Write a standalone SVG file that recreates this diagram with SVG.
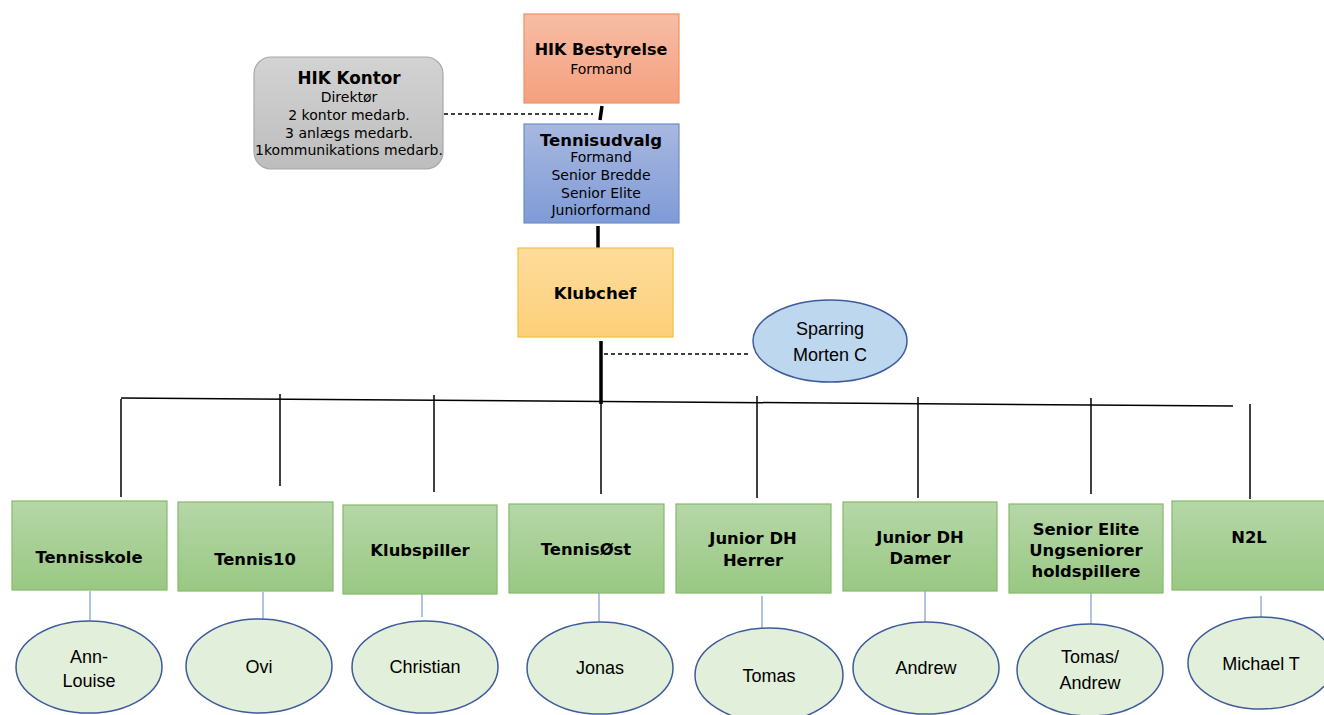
<svg xmlns="http://www.w3.org/2000/svg" width="1324" height="715" viewBox="0 0 1324 715">
<defs>
<linearGradient id="gOrange" x1="0" y1="0" x2="0" y2="1"><stop offset="0" stop-color="#f7bda6"/><stop offset="1" stop-color="#f4a07f"/></linearGradient>
<linearGradient id="gGrey" x1="0" y1="0" x2="0" y2="1"><stop offset="0" stop-color="#d3d3d3"/><stop offset="1" stop-color="#bdbdbd"/></linearGradient>
<linearGradient id="gBlue" x1="0" y1="0" x2="0" y2="1"><stop offset="0" stop-color="#a8b8e0"/><stop offset="1" stop-color="#7f9bd6"/></linearGradient>
<linearGradient id="gYellow" x1="0" y1="0" x2="0" y2="1"><stop offset="0" stop-color="#fedc9c"/><stop offset="1" stop-color="#fdd07a"/></linearGradient>
<linearGradient id="gGreen" x1="0" y1="0" x2="0" y2="1"><stop offset="0" stop-color="#b6d7a8"/><stop offset="1" stop-color="#99c883"/></linearGradient>
</defs>
<style>
.t{font-family:"DejaVu Sans",Verdana,sans-serif;fill:#000;text-anchor:middle}
.b{font-weight:bold}
.e{font-family:"Liberation Sans",Arial,sans-serif;font-size:18px;fill:#000;text-anchor:middle}
.box{stroke-width:1.2}
.green{fill:url(#gGreen);stroke:#85b96b;stroke-width:1.2}
.ell{fill:#e2efda;stroke:#3e5b9c;stroke-width:1.5}
.thin{stroke:#000;stroke-width:1.5;fill:none}
.thick{stroke:#000;stroke-width:3.5;fill:none}
.dash{stroke:#000;stroke-width:1.3;stroke-dasharray:4 3;fill:none}
.blue{stroke:#7c9bd0;stroke-width:1.2;fill:none}
</style>
<rect width="1324" height="715" fill="#fff"/>
<g id="connectors">
<line class="dash" x1="444" y1="114" x2="593" y2="114"/>
<line class="thick" x1="602" y1="106" x2="600" y2="120"/>
<line class="thick" x1="598" y1="226" x2="598" y2="259"/>
<line class="thick" x1="601" y1="341" x2="601" y2="404"/>
<line class="dash" x1="604" y1="354" x2="749" y2="354"/>
<line class="thin" x1="121" y1="398" x2="1233" y2="406"/>
<line class="thin" x1="121" y1="399" x2="121" y2="497"/>
<line class="thin" x1="280" y1="394" x2="280" y2="486"/>
<line class="thin" x1="434" y1="395" x2="434" y2="492"/>
<line class="thin" x1="601" y1="401" x2="601" y2="494"/>
<line class="thin" x1="757" y1="396" x2="757" y2="498"/>
<line class="thin" x1="918" y1="397" x2="918" y2="498"/>
<line class="thin" x1="1091" y1="398" x2="1091" y2="494"/>
<line class="thin" x1="1250" y1="404" x2="1250" y2="499"/>
<line class="blue" x1="90" y1="591" x2="90" y2="621"/>
<line class="blue" x1="263" y1="592" x2="263" y2="620"/>
<line class="blue" x1="422" y1="588" x2="422" y2="617"/>
<line class="blue" x1="599" y1="587" x2="599" y2="623"/>
<line class="blue" x1="762" y1="596" x2="762" y2="628"/>
<line class="blue" x1="925" y1="587" x2="925" y2="622"/>
<line class="blue" x1="1091" y1="588" x2="1091" y2="624"/>
<line class="blue" x1="1261" y1="596" x2="1261" y2="622"/>
</g>
<g id="bestyrelse">
<rect x="524" y="14" width="155" height="89" fill="url(#gOrange)" stroke="#f0915f" class="box"/>
<text class="t b" x="601" y="55" font-size="16">HIK Bestyrelse</text>
<text class="t" x="601" y="74" font-size="14">Formand</text>
</g>
<g id="kontor">
<rect x="254" y="57" width="189" height="112" rx="17" fill="url(#gGrey)" stroke="#a8a8a8" class="box"/>
<text class="t b" x="349" y="84" font-size="16.8">HIK Kontor</text>
<text class="t" x="349" y="102" font-size="14">Direktør</text>
<text class="t" x="349" y="120" font-size="14">2 kontor medarb.</text>
<text class="t" x="349" y="138" font-size="14">3 anlægs medarb.</text>
<text class="t" x="349" y="155" font-size="14">1kommunikations medarb.</text>
</g>
<g id="tennisudvalg">
<rect x="524" y="124" width="155" height="99" fill="url(#gBlue)" stroke="#6f8cc9" class="box"/>
<text class="t b" x="601" y="146" font-size="16.5">Tennisudvalg</text>
<text class="t" x="601" y="162" font-size="14">Formand</text>
<text class="t" x="601" y="180" font-size="14">Senior Bredde</text>
<text class="t" x="601" y="198" font-size="14">Senior Elite</text>
<text class="t" x="601" y="215" font-size="14">Juniorformand</text>
</g>
<g id="klubchef">
<rect x="518" y="248" width="155" height="89" fill="url(#gYellow)" stroke="#f4c03f" class="box"/>
<text class="t b" x="595" y="299" font-size="16.6">Klubchef</text>
</g>
<g id="sparring">
<ellipse cx="830" cy="341" rx="77" ry="41" fill="#bdd7ee" stroke="#3e5b9c" stroke-width="1.5"/>
<text class="e" x="830" y="335">Sparring</text>
<text class="e" x="830" y="361">Morten C</text>
</g>
<g id="tennisskole">
<rect class="green" x="12" y="501" width="155" height="89"/>
<text class="t b" x="89" y="563" font-size="16.4">Tennisskole</text>
</g>
<g id="tennis10">
<rect class="green" x="178" y="502" width="155" height="89"/>
<text class="t b" x="255" y="565" font-size="16.4">Tennis10</text>
</g>
<g id="klubspiller">
<rect class="green" x="343" y="505" width="154" height="89"/>
<text class="t b" x="420" y="556" font-size="16.4">Klubspiller</text>
</g>
<g id="tennisoest">
<rect class="green" x="509" y="504" width="155" height="89"/>
<text class="t b" x="586" y="555" font-size="16.4">TennisØst</text>
</g>
<g id="juniorherrer">
<rect class="green" x="676" y="504" width="155" height="89"/>
<text class="t b" x="753" y="544" font-size="16.4">Junior DH</text>
<text class="t b" x="753" y="566" font-size="16.4">Herrer</text>
</g>
<g id="juniordamer">
<rect class="green" x="843" y="502" width="154" height="89"/>
<text class="t b" x="920" y="543" font-size="16.4">Junior DH</text>
<text class="t b" x="920" y="564" font-size="16.4">Damer</text>
</g>
<g id="seniorelite">
<rect class="green" x="1009" y="504" width="154" height="89"/>
<text class="t b" x="1086" y="535" font-size="16.4">Senior Elite</text>
<text class="t b" x="1086" y="556" font-size="16.4">Ungseniorer</text>
<text class="t b" x="1086" y="577" font-size="16.4">holdspillere</text>
</g>
<g id="n2l">
<rect class="green" x="1172" y="501" width="160" height="89"/>
<text class="t b" x="1249" y="543" font-size="16.4">N2L</text>
</g>
<g id="annlouise">
<ellipse class="ell" cx="89" cy="667" rx="73" ry="46"/>
<text class="e" x="89" y="663">Ann-</text>
<text class="e" x="89" y="687">Louise</text>
</g>
<g id="ovi">
<ellipse class="ell" cx="259" cy="666" rx="73" ry="47"/>
<text class="e" x="259" y="673">Ovi</text>
</g>
<g id="christian">
<ellipse class="ell" cx="425" cy="667" rx="73" ry="46"/>
<text class="e" x="425" y="673">Christian</text>
</g>
<g id="jonas">
<ellipse class="ell" cx="600" cy="668" rx="73" ry="46"/>
<text class="e" x="600" y="674">Jonas</text>
</g>
<g id="tomas">
<ellipse class="ell" cx="769" cy="675" rx="74" ry="47"/>
<text class="e" x="769" y="682">Tomas</text>
</g>
<g id="andrew">
<ellipse class="ell" cx="926" cy="668" rx="73" ry="46"/>
<text class="e" x="926" y="674">Andrew</text>
</g>
<g id="tomasandrew">
<ellipse class="ell" cx="1090" cy="670" rx="73" ry="46"/>
<text class="e" x="1090" y="663">Tomas/</text>
<text class="e" x="1090" y="689">Andrew</text>
</g>
<g id="michaelt">
<ellipse class="ell" cx="1261" cy="663" rx="73" ry="46"/>
<text class="e" x="1261" y="670">Michael T</text>
</g>
</svg>
